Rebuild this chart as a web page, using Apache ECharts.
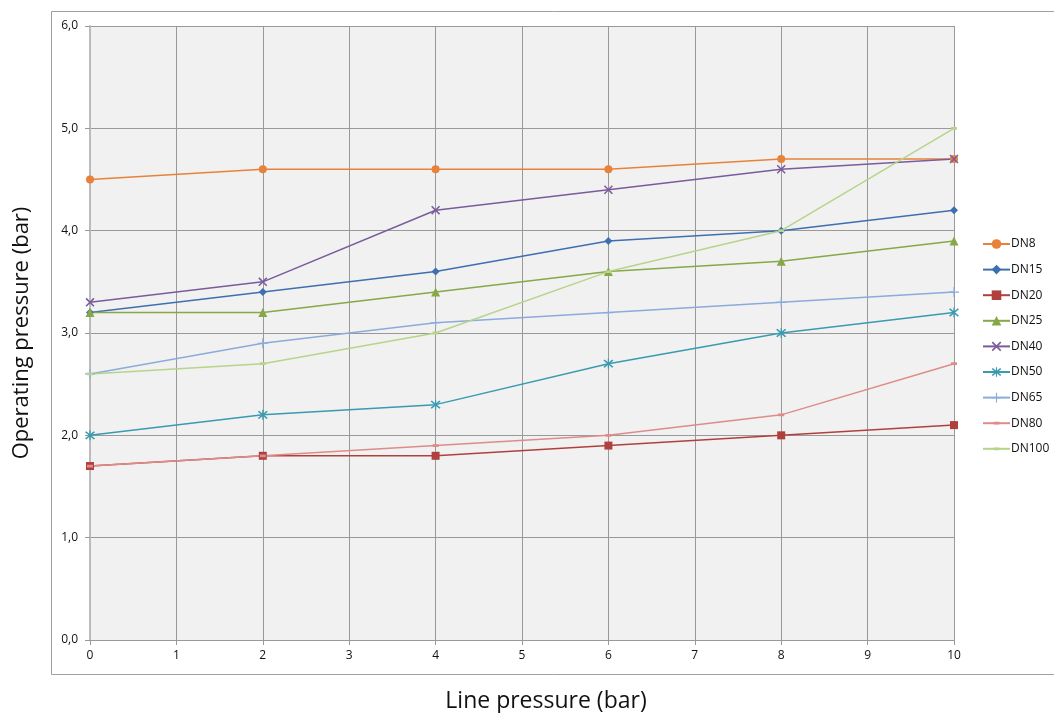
<!DOCTYPE html>
<html><head><meta charset="utf-8">
<script src="https://cdn.jsdelivr.net/npm/echarts@6/dist/echarts.min.js"></script>
<style>html,body{margin:0;padding:0;background:#fff}#c{width:1054px;height:713px}</style>
</head><body><div id="c"></div>
<script>
const xValues = [0, 2, 4, 6, 8, 10];
const seriesNames = ['DN8','DN15','DN20','DN25','DN40','DN50','DN65','DN80','DN100'];
const DN8   = [4.5, 4.6, 4.6, 4.6, 4.7, 4.7];
const DN15  = [3.2, 3.4, 3.6, 3.9, 4.0, 4.2];
const DN20  = [1.7, 1.8, 1.8, 1.9, 2.0, 2.1];
const DN25  = [3.2, 3.2, 3.4, 3.6, 3.7, 3.9];
const DN40  = [3.3, 3.5, 4.2, 4.4, 4.6, 4.7];
const DN50  = [2.0, 2.2, 2.3, 2.7, 3.0, 3.2];
const DN65  = [2.6, 2.9, 3.1, 3.2, 3.3, 3.4];
const DN80  = [1.7, 1.8, 1.9, 2.0, 2.2, 2.7];
const DN100 = [2.6, 2.7, 3.0, 3.6, 4.0, 5.0];
const allValues = [DN8, DN15, DN20, DN25, DN40, DN50, DN65, DN80, DN100];

const colors = ['#E8823A','#3E6FB0','#B0403E','#86A848','#7A5B9B','#3A9AB0','#8AABDB','#DE8C8A','#B7D48A'];
const X = 'path://M0,1.2 L1.2,0 L10,8.8 L8.8,10 Z M8.8,0 L10,1.2 L1.2,10 L0,8.8 Z';
const AST = 'path://M0,1.2 L1.2,0 L10,8.8 L8.8,10 Z M8.8,0 L10,1.2 L1.2,10 L0,8.8 Z M4.4,-1 L5.6,-1 L5.6,11 L4.4,11 Z';
const PLUS = 'path://M4.4,0 L5.6,0 L5.6,10 L4.4,10 Z M0,4.4 L10,4.4 L10,5.6 L0,5.6 Z';
const DASH = 'path://M0,0 L0.01,0 L0.01,0.01 Z M10,10 L9.99,10 L9.99,9.99 Z M2,3.6 L8,3.6 L8,6.4 L2,6.4 Z';
const symbols = ['circle','diamond','rect','triangle',X,AST,PLUS,DASH,DASH];
const sizes = [8,8,8,9,9,10,10,10,10];

const font = 'Open Sans';
const chart = echarts.init(document.getElementById('c'), null, {renderer:'canvas'});
chart.setOption({
  animation:false,
  textStyle:{fontFamily:font},
  graphic:[{type:'rect', shape:{x:51.5,y:11.5,width:1010,height:663}, style:{fill:'none',stroke:'#a0a0a0',lineWidth:1}, z:-1}],
  grid:{left:90, top:26, right:100, bottom:73, show:true, backgroundColor:'#f1f1f1', borderWidth:0, outerBoundsMode:'none', containLabel:false},
  legend:{
    orient:'vertical', left:977, top:233, itemWidth:27, itemHeight:12, itemGap:13.6,
    textStyle:{fontFamily:font, fontSize:12, color:'#111', padding:[0,0,0,-4]},
    data:seriesNames
  },
  xAxis:{
    type:'value', min:0, max:10, interval:1,
    name:'Line pressure (bar)', nameLocation:'middle', nameGap:50,
    nameTextStyle:{fontSize:23, color:'#111', fontFamily:font, padding:[0,0,0,48]},
    axisLine:{show:true, onZero:false, lineStyle:{color:'#999', width:1}},
    axisTick:{show:true, length:5, lineStyle:{color:'#999'}},
    axisLabel:{fontSize:12, color:'#111', margin:10},
    splitLine:{show:true, lineStyle:{color:'#999', width:1}}
  },
  yAxis:{
    type:'value', min:0, max:6, interval:1,
    name:'Operating pressure (bar)', nameLocation:'middle', nameGap:57,
    nameTextStyle:{fontSize:22, color:'#111', fontFamily:font},
    axisLine:{show:true, lineStyle:{color:'#bbb', width:2}},
    axisTick:{show:true, length:5, lineStyle:{color:'#999'}},
    axisLabel:{fontSize:12, color:'#111', margin:12, formatter:v=>v.toFixed(1).replace('.',',')},
    splitLine:{show:true, lineStyle:{color:'#999', width:1}}
  },
  series: seriesNames.map((n,i)=>({
    name:n, type:'line',
    data: xValues.map((x,j)=>[x, allValues[i][j]]),
    symbol:symbols[i], symbolSize:sizes[i], showAllSymbol:true,
    lineStyle:{color:colors[i], width:1.5},
    itemStyle:{color:colors[i]},
    emphasis:{disabled:true}
  }))
});
</script></body></html>
